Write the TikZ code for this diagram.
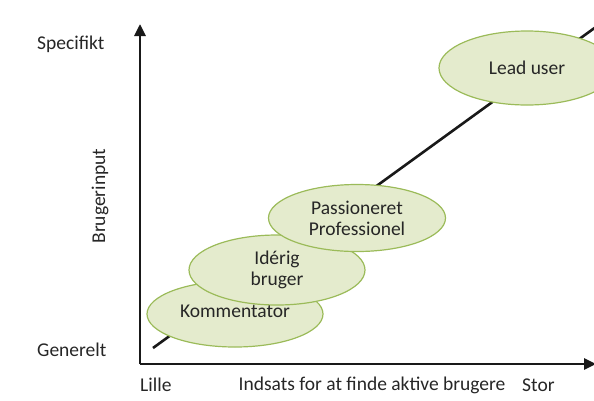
\documentclass[tikz,border=0pt]{standalone}
\usepackage{fontspec}
\setmainfont{Carlito}
\usetikzlibrary{shapes.geometric,arrows.meta}
\definecolor{elfill}{HTML}{E4EBCD}
\definecolor{eldraw}{HTML}{9BBB59}
\definecolor{txt}{HTML}{262626}
\tikzset{
  blob/.style={ellipse, draw=eldraw, fill=elfill, line width=1.2pt, text=txt, font=\fontsize{19.5}{21}\selectfont, align=center, inner sep=0pt},
  axis/.style={line width=2.8pt, black!90},
  lbl/.style={text=txt, font=\fontsize{19.5}{21}\selectfont, inner sep=0pt},
}
\begin{document}
\begin{tikzpicture}[x=1pt,y=-1pt]
\useasboundingbox (0,0) rectangle (594,400);
\begin{scope}
\clip (0,0) rectangle (594,400);
\coordinate (dl) at (153,348);
\coordinate (dr) at (600,24);
\draw[line width=2.6pt, black!90] (dl) -- (dr);
\node[blob, minimum width=176pt, minimum height=66pt] (komm) at (235,314) {};
\node[text=txt, font=\fontsize{19.5}{21}\selectfont] (kommtxt) at (235,311) {Kommentator};
\node[blob, minimum width=176pt, minimum height=70pt] (ider) at (277,270) {Idérig\\bruger};
\node[blob, minimum width=177pt, minimum height=67pt] (pass) at (357,218) {Passioneret\\Professionel};
\node[blob, minimum width=176pt, minimum height=74pt] (lead) at (527,68) {Lead user};
\coordinate (origin) at (140,364);
\coordinate (ytop) at (140,24);
\coordinate (xend) at (596,364);
\draw[axis, -{Triangle[length=12pt,width=11pt]}] (origin) -- (ytop);
\draw[axis, -{Triangle[length=12pt,width=11pt]}] (origin) -- (xend);
\end{scope}
\node[lbl, anchor=west] (spec) at (37,44) {Specifikt};
\node[lbl, anchor=west] (gen) at (37,350) {Generelt};
\node[lbl, rotate=90] (brug) at (100,196) {Brugerinput};
\node[lbl, anchor=west] (lille) at (140,385) {Lille};
\node[lbl] (inds) at (372,385) {Indsats for at finde aktive brugere};
\node[lbl, anchor=west] (stor) at (522,385) {Stor};
\end{tikzpicture}
\end{document}
